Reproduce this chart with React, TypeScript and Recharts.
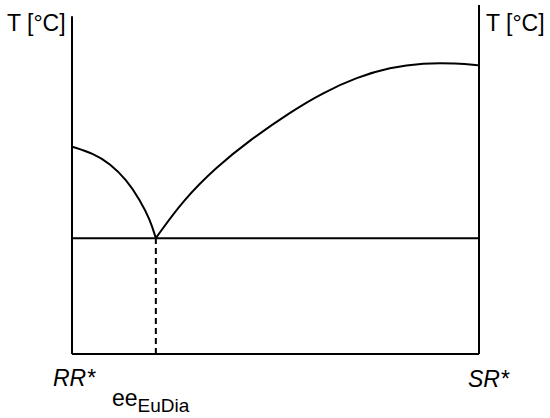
import React from 'react'
import { LineChart, Line, XAxis, YAxis, ReferenceLine } from 'recharts'

// composition axis: 0 = RR*, 100 = SR*; temperature in arbitrary units
const eutectic = { x: 20.6, t: 33.2 }

const leftLiquidus = [
  { x: 0, t: 59.4 },
  { x: 5.2, t: 57.5 },
  { x: 9.3, t: 54.6 },
  { x: 13.4, t: 49.9 },
  { x: 16.7, t: 44.1 },
  { x: 19.2, t: 38.4 },
  { x: 20.6, t: 33.2 },
]

const rightLiquidus = [
  { x: 20.6, t: 33.2 },
  { x: 27.3, t: 44.1 },
  { x: 35.6, t: 53.7 },
  { x: 43.7, t: 61.3 },
  { x: 53.6, t: 69.3 },
  { x: 61.7, t: 74.9 },
  { x: 70.0, t: 79.3 },
  { x: 78.1, t: 82.1 },
  { x: 86.3, t: 83.4 },
  { x: 94.5, t: 83.3 },
  { x: 100, t: 82.7 },
]

const axisTop = { left: 96.8, right: 100 }
const yLabel = 'T [°C]'
const endLabels = ['RR*', 'SR*']

const font = 'Arial, "Liberation Sans", Helvetica, sans-serif'

export default function App() {
  return (
    <div style={{ position: 'absolute', left: 0, top: 0, width: 550, height: 418, background: '#fff' }}>
      <LineChart width={550} height={418} margin={{ top: 5, right: 71, bottom: 64, left: 72 }}>
        <XAxis type="number" dataKey="x" domain={[0, 100]} hide />
        <YAxis type="number" dataKey="t" domain={[0, 100]} hide />

        {/* frame */}
        <ReferenceLine segment={[{ x: 0, y: 0 }, { x: 0, y: axisTop.left }]} stroke="#000" strokeWidth={2} ifOverflow="visible" />
        <ReferenceLine segment={[{ x: 100, y: 0 }, { x: 100, y: axisTop.right }]} stroke="#000" strokeWidth={2} ifOverflow="visible" />
        <ReferenceLine segment={[{ x: 0, y: 0 }, { x: 100, y: 0 }]} stroke="#000" strokeWidth={2} ifOverflow="visible" />

        {/* eutectic line */}
        <ReferenceLine y={eutectic.t} stroke="#000" strokeWidth={2} />
        <ReferenceLine segment={[{ x: eutectic.x, y: 0 }, { x: eutectic.x, y: eutectic.t }]} stroke="#000" strokeWidth={2} strokeDasharray="6 4" />

        <Line data={leftLiquidus} dataKey="t" type="basis" stroke="#000" strokeWidth={2} dot={false} isAnimationActive={false} />
        <Line data={rightLiquidus} dataKey="t" type="basis" stroke="#000" strokeWidth={2} dot={false} isAnimationActive={false} />

        <text x={7} y={31} fontSize={23} fontFamily={font} fill="#000">{yLabel}</text>
        <text x={486} y={31} fontSize={23} fontFamily={font} fill="#000">{yLabel}</text>
        <text x={53} y={386} fontSize={23} fontStyle="italic" fontFamily={font} fill="#000">{endLabels[0]}</text>
        <text x={468} y={387} fontSize={23} fontStyle="italic" fontFamily={font} fill="#000">{endLabels[1]}</text>
        <text x={112} y={406} fontSize={23} fontFamily={font} fill="#000">
          ee<tspan fontSize={19} dy={6}>EuDia</tspan>
        </text>
      </LineChart>
    </div>
  )
}
